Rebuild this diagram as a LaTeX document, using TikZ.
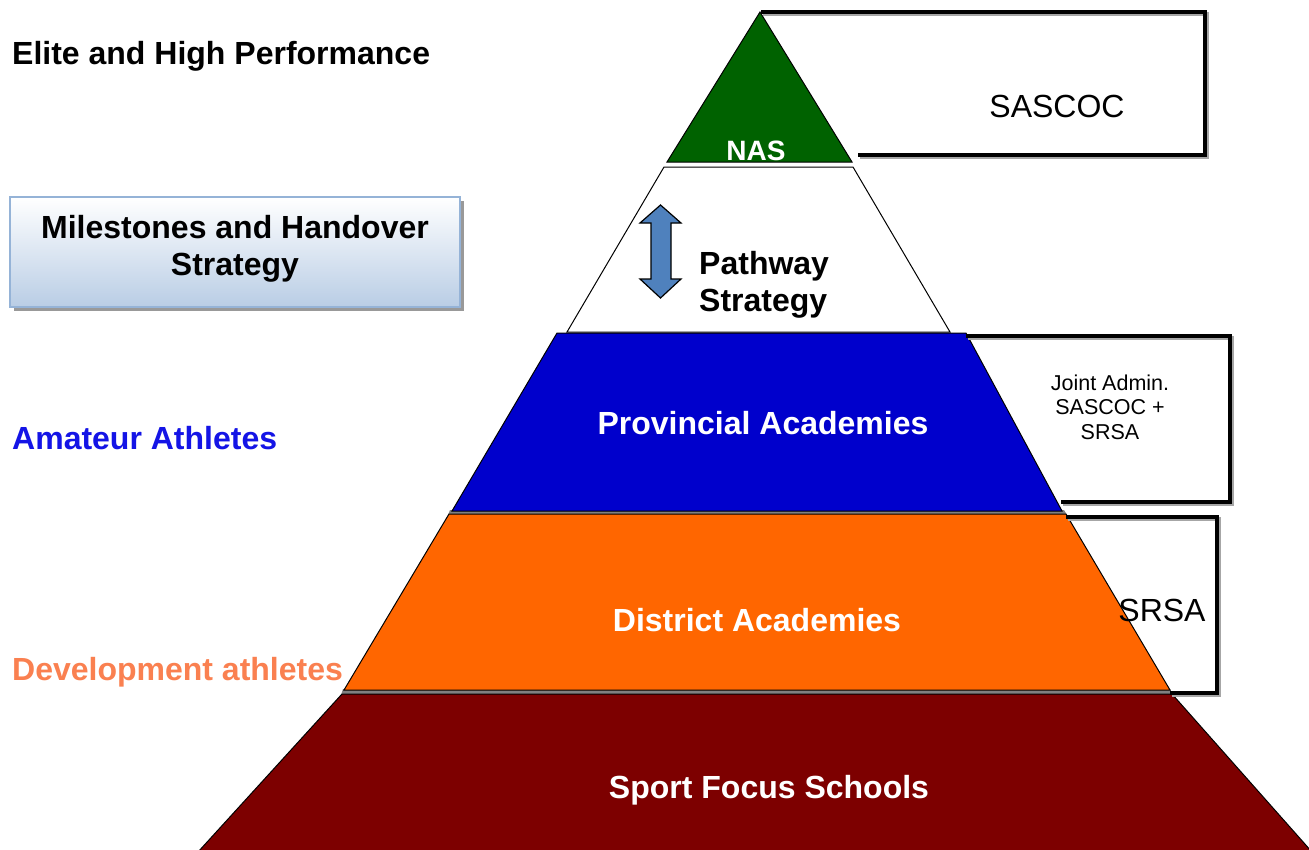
\documentclass[tikz,border=0pt]{standalone}
\usepackage{fontspec}
\setmainfont{Liberation Sans}
\definecolor{nasgreen}{RGB}{0,98,0}
\definecolor{provblue}{RGB}{0,0,204}
\definecolor{distorange}{RGB}{255,102,0}
\definecolor{schoolred}{RGB}{125,0,0}
\definecolor{amblue}{RGB}{20,20,230}
\definecolor{devorange}{RGB}{250,128,80}
\definecolor{boxedge}{RGB}{149,179,215}
\definecolor{boxbottom}{RGB}{185,205,229}
\definecolor{arrowblue}{RGB}{79,129,189}
\tikzset{
  x=1pt, y=-1pt,
  tier/.style={draw=black, line width=1pt},
  bigtxt/.style={font=\bfseries\fontsize{32}{37}\selectfont, inner sep=0pt},
  intxt/.style={bigtxt, text=white},
  regtxt/.style={font=\fontsize{32}{37}\selectfont, inner sep=0pt},
  bracketline/.style={line width=4.5pt, black, line cap=rect},
  bracketshadow/.style={line width=4.5pt, black!35, line cap=rect}
}
\begin{document}
\begin{tikzpicture}
\useasboundingbox (0,0) rectangle (1309,849);
\fill[white] (0,0) rectangle (1309,849);

% pyramid tiers
\fill[black!50] (450,510) -- (1064,510) -- (1067,515) -- (448,515) -- cycle;
\fill[black!50] (343,689) -- (1170,689) -- (1173,695) -- (341,695) -- cycle;
\draw[tier, fill=schoolred] (342,694) -- (1172,694) -- (1312,852) -- (198,852) -- cycle;
\draw[tier, fill=distorange] (449,514) -- (1066,514) -- (1170,690) -- (344,690) -- cycle;
\draw[tier, fill=provblue] (557,333) -- (966,333) -- (1062,511) -- (452,511) -- cycle;
\draw[tier, fill=white] (664,167) -- (853,167) -- (950,332) -- (567,332) -- cycle;
\draw[tier, fill=nasgreen] (760,12) -- (852,162) -- (667,162) -- cycle;

% brackets
\draw[bracketshadow] (765,14) -- (1207,14) -- (1207,157) -- (862,157);
\draw[bracketline] (763,12) -- (1205,12) -- (1205,155) -- (860,155);
\draw[bracketshadow] (970,338) -- (1232,338) -- (1232,504) -- (1065,504);
\draw[bracketline] (968,336) -- (1230,336) -- (1230,502) -- (1063,502);
\draw[bracketshadow] (1070,519) -- (1219,519) -- (1219,695) -- (1174,695);
\draw[bracketline] (1068,517) -- (1217,517) -- (1217,693) -- (1172,693);

% milestones box
\fill[black!40] (14,201) rectangle (464,311);
\shade[top color=white, bottom color=boxbottom] (10,197) rectangle (460,307);
\draw[boxedge, line width=2pt] (10,197) rectangle (460,307);
\node[bigtxt, align=center] (milestones) at (235,249) {Milestones and Handover\\Strategy};

% double arrow
\draw[fill=arrowblue, line width=1.2pt, line join=miter]
  (660.5,205) -- (681,223) -- (671,223) -- (671,279) -- (681,279) -- (660.5,298)
  -- (640,279) -- (651,279) -- (651,223) -- (640,223) -- cycle;

% labels
\node[bigtxt, anchor=west] (elite) at (12,56) {Elite and High Performance};
\node[bigtxt, anchor=west, text=amblue] (amateur) at (12,438) {Amateur Athletes};
\node[bigtxt, anchor=west, text=devorange] (development) at (12,672) {Development athletes};

\node[intxt, font=\bfseries\fontsize{28}{32}\selectfont] (nas) at (756,151) {NAS};
\node[bigtxt, align=left, anchor=west] (pathway) at (699,285) {Pathway\\Strategy};
\node[intxt] (provincial) at (763,423) {Provincial Academies};
\node[intxt] (district) at (757,620) {District Academies};
\node[intxt] (schools) at (769,790) {Sport Focus Schools};

\node[regtxt] (sascoc) at (1057,106) {SASCOC};
\node[inner sep=0pt, align=center, font=\fontsize{21.5}{24.5}\selectfont] (joint) at (1110,407) {Joint Admin.\\SASCOC +\\SRSA};
\node[regtxt] (srsa) at (1162,610) {SRSA};
\end{tikzpicture}
\end{document}
